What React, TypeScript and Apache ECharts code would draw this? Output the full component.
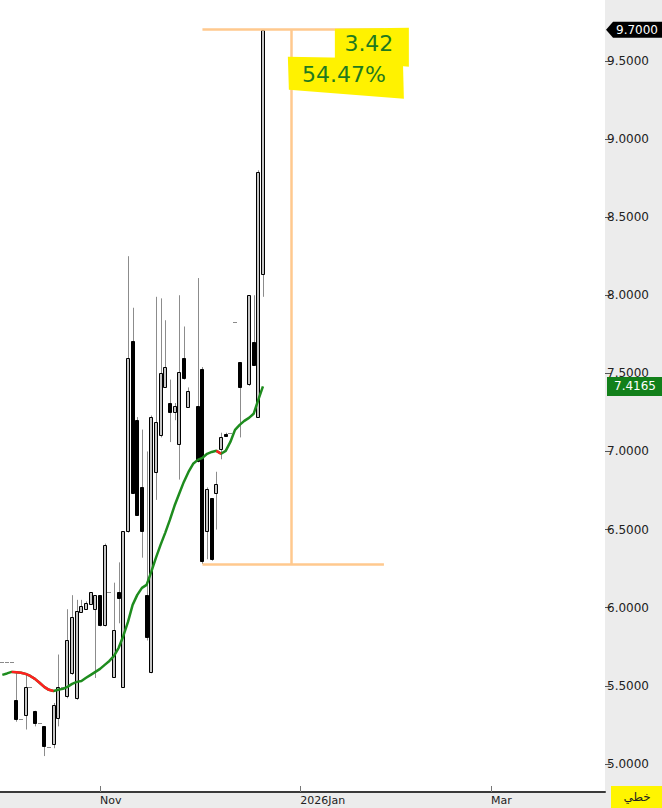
import React, { useEffect, useRef } from "react";
import * as echarts from "echarts";

// ---- category slots (trading days, incl. future empty slots) ----
const SLOT_COUNT = 130;
const categories: string[] = Array.from({ length: SLOT_COUNT }, (_, i) => "D" + i);

// x-axis tick labels at trading-slot indices
const xTickSlots = [21, 64, 105];
const xTickLabels = ["Nov", "2026Jan", "Mar"];

// y-axis tick values
const yTicks = [5.0, 5.5, 6.0, 6.5, 7.0, 7.5, 8.0, 8.5, 9.0, 9.5];
const yMin = 4.82;
const yMax = 9.89;

// ---- OHLC by slot (null = no bar) ----
const opens: (number | null)[] = [
  5.65, 5.65, 5.65, 5.41, 5.29, 5.31, 5.49, 5.34, 5.26, 5.24,
  5.11, 5.13, 5.29, 5.49, 5.43, 5.58, 5.42, 5.97, 5.99, 6.02,
  5.99, 6.08, 5.89, 6.10, 5.56, 6.10, 5.49, 6.49, 7.71, 7.20,
  6.77, 6.08, 5.59, 6.87, 7.10, 7.41, 7.31, 7.25, 7.05, 7.60,
  7.29, null, 7.29, 7.53, 6.49, 6.70, 6.73, 7.01, 7.11, 7.12,
  7.83, 7.57, null, 7.43, 7.70, 7.22, 8.14,
];
const closes: (number | null)[] = [
  5.65, 5.65, 5.65, 5.29, 5.29, 5.49, 5.49, 5.26, 5.26, 5.11,
  5.11, 5.38, 5.49, 5.49, 5.79, 5.94, 5.98, 6.01, 6.03, 6.10,
  6.08, 5.89, 6.40, 6.10, 5.86, 6.06, 6.49, 7.60, 6.74, 6.59,
  6.49, 5.81, 7.22, 7.19, 7.50, 7.54, 7.25, 7.29, 7.51, 7.47,
  7.39, null, 6.94, 6.30, 6.76, 6.31, 6.79, 7.09, 7.10, 7.12,
  7.83, 7.41, null, 8.00, 7.55, 8.79, 9.70,
];
const lows: (number | null)[] = [
  5.65, 5.65, 5.65, 5.27, 5.29, 5.22, 5.49, 5.24, 5.26, 5.05,
  5.11, 5.10, 5.24, 5.49, 5.42, 5.57, 5.41, 5.97, 5.99, 6.02,
  5.55, 5.88, 5.88, 6.10, 5.55, 5.90, 5.49, 6.48, 6.74, 6.59,
  6.32, 5.79, 5.58, 6.69, 7.09, 7.41, 7.06, 7.20, 6.82, 7.46,
  7.28, null, 6.93, 6.2795, 6.31, 6.30, 6.50, 6.95, 7.10, 7.12,
  7.83, 7.09, null, 7.42, 7.55, 7.22, 7.99,
];
const highs: (number | null)[] = [
  5.65, 5.65, 5.65, 5.59, 5.29, 5.58, 5.49, 5.34, 5.26, 5.24,
  5.11, 5.39, 5.70, 5.49, 5.99, 6.08, 6.05, 6.05, 6.04, 6.10,
  6.08, 6.08, 6.41, 6.10, 6.16, 6.29, 6.49, 8.25, 7.92, 7.22,
  7.14, 7.00, 7.23, 7.99, 7.98, 7.84, 7.46, 7.31, 8.00, 7.80,
  7.41, null, 8.11, 7.54, 6.77, 6.70, 6.87, 7.12, 7.12, 7.12,
  7.83, 7.57, null, 8.00, 8.00, 8.80, 9.70,
];

// moving average by slot
const maValues: number[] = [
  5.570, 5.579, 5.589, 5.586, 5.583, 5.576, 5.563, 5.544, 5.519, 5.493,
  5.474, 5.467, 5.474, 5.480, 5.493, 5.512, 5.525, 5.531, 5.551, 5.570,
  5.589, 5.608, 5.634, 5.659, 5.691, 5.743, 5.819, 5.909, 6.018, 6.082,
  6.127, 6.146, 6.229, 6.319, 6.402, 6.479, 6.562, 6.652, 6.729, 6.805,
  6.869, 6.921, 6.946, 6.959, 6.985, 6.997, 7.004, 6.985, 7.004, 7.061,
  7.138, 7.170, 7.196, 7.215, 7.241, 7.330, 7.4165,
];
// slot ranges where the MA is drawn red (falling)
const maFallingRanges: [number, number][] = [[2, 11], [46, 47]];

// measurement tool
const measureFromSlot = 43;
const measureToSlot = 82;
const measureMidSlot = 62;

const FONT = "'DejaVu Sans', Verdana, sans-serif";

export default function App() {
  const ref = useRef<HTMLDivElement>(null);
  useEffect(() => {
    if (!ref.current) return;
    const chart = echarts.init(ref.current, null, { renderer: "svg" });

    const candleData: number[][] = [];
    for (let i = 0; i < opens.length; i++) {
      if (opens[i] == null) continue;
      candleData.push([i, opens[i] as number, closes[i] as number, lows[i] as number, highs[i] as number]);
    }
    let hi = -Infinity, lo = Infinity;
    for (let i = measureFromSlot; i < highs.length; i++) {
      if (highs[i] != null) hi = Math.max(hi, highs[i] as number);
      if (lows[i] != null) lo = Math.min(lo, lows[i] as number);
    }
    const redData = maValues.map((v, i) =>
      maFallingRanges.some(([a, b]) => i >= a && i <= b) ? v : "-"
    );
    const lastClose = closes[closes.length - 1] as number;
    const lastMA = maValues[maValues.length - 1];

    const orange = "#ffc98e";
    const option: any = {
      animation: false,
      backgroundColor: "#ececec",
      grid: { left: -1, right: 57, top: 0, bottom: 16, show: true, backgroundColor: "#ffffff", borderWidth: 0 },
      xAxis: {
        type: "category",
        data: categories,
        boundaryGap: true,
        axisLine: { lineStyle: { color: "#3a3a3a", width: 2 } },
        axisTick: {
          show: true, inside: true, length: 6, alignWithLabel: true,
          interval: (i: number) => xTickSlots.includes(i),
          lineStyle: { color: "#777" },
        },
        axisLabel: {
          interval: (i: number) => xTickSlots.includes(i),
          formatter: (_v: string, i: number) => {
            const k = xTickSlots.indexOf(i);
            return k >= 0 ? xTickLabels[k] : "";
          },
          align: "left", margin: 3, color: "#222", fontSize: 11, fontFamily: FONT,
        },
        splitLine: { show: false },
      },
      yAxis: {
        type: "value",
        position: "right",
        min: yMin,
        max: yMax,
        axisLine: { show: false },
        axisTick: { show: true, length: 6, customValues: yTicks, lineStyle: { color: "#555" } },
        axisLabel: {
          customValues: yTicks,
          formatter: (v: number) => v.toFixed(4),
          margin: 2, color: "#222", fontSize: 12, fontFamily: FONT,
        },
        splitLine: { show: false },
      },
      series: [
        {
          type: "custom",
          name: "price",
          data: candleData,
          encode: { x: 0, y: [1, 2, 3, 4] },
          z: 2,
          renderItem: (_p: any, api: any) => {
            const idx = api.value(0);
            const o = api.value(1), c = api.value(2), l = api.value(3), h = api.value(4);
            const pH = api.coord([idx, h]);
            const pL = api.coord([idx, l]);
            const pO = api.coord([idx, o]);
            const pC = api.coord([idx, c]);
            const xc = Math.round(pH[0]);
            if (h === l) {
              const y = Math.round(pH[1]) + 0.5;
              return { type: "line", shape: { x1: xc - 2, y1: y, x2: xc + 2, y2: y }, style: { stroke: "#8a8a8a", lineWidth: 1 } };
            }
            const top = Math.min(pO[1], pC[1]);
            const bot = Math.max(pO[1], pC[1]);
            const up = c >= o;
            return {
              type: "group",
              children: [
                { type: "line", shape: { x1: xc + 0.5, y1: pH[1], x2: xc + 0.5, y2: pL[1] }, style: { stroke: "#8c8c8c", lineWidth: 1 } },
                {
                  type: "rect",
                  shape: { x: xc - 1.5, y: Math.round(top) + 0.5, width: 3, height: Math.max(1, Math.round(bot - top)) },
                  style: { fill: up ? "#c6c6c6" : "#000", stroke: "#000", lineWidth: 1 },
                },
              ],
            };
          },
        },
        {
          type: "line",
          name: "ma",
          data: maValues,
          symbol: "none",
          z: 3,
          lineStyle: { color: "#1e8c1e", width: 2.5 },
          markLine: {
            silent: true,
            symbol: ["none", "none"],
            label: { show: false },
            lineStyle: { color: orange, width: 2.5, type: "solid" },
            emphasis: { disabled: true },
            data: [
              [{ coord: [categories[measureFromSlot], hi] }, { coord: [categories[measureToSlot], hi] }],
              [{ coord: [categories[measureFromSlot], lo] }, { coord: [categories[measureToSlot], lo] }],
              [{ coord: [categories[measureMidSlot], hi] }, { coord: [categories[measureMidSlot], lo] }],
            ],
          },
        },
        {
          type: "line",
          name: "ma-down",
          data: redData,
          symbol: "none",
          z: 4,
          connectNulls: false,
          lineStyle: { color: "#ff2020", width: 2.5 },
        },
      ],
    };
    chart.setOption(option);

    const yLast = chart.convertToPixel({ yAxisIndex: 0 }, lastClose) as number;
    const yMa = chart.convertToPixel({ yAxisIndex: 0 }, lastMA) as number;
    const anchor = chart.convertToPixel({ xAxisIndex: 0, yAxisIndex: 0 }, [measureMidSlot, hi]) as number[];
    const ax = anchor[0], ay = anchor[1];
    const diff = hi - lo;
    const pct = (diff / lo) * 100;
    const W = chart.getWidth();
    const H = chart.getHeight();

    chart.setOption({
      graphic: [
        {
          type: "polygon", z: 100,
          shape: { points: [[ax + 44, ay - 1], [ax + 118, ay - 2], [ax + 118, ay + 37], [ax + 44, ay + 30]] },
          style: { fill: "#fff200" },
        },
        {
          type: "polygon", z: 101,
          shape: { points: [[ax - 3, ay + 27], [ax + 112, ay + 29], [ax + 113, ay + 69], [ax - 2, ay + 60]] },
          style: { fill: "#fff200" },
        },
        {
          type: "text", z: 102, x: ax + 78, y: ay + 14,
          style: { text: diff.toFixed(2), fill: "#1f7a1f", font: "22px " + FONT, textAlign: "center", textVerticalAlign: "middle" },
        },
        {
          type: "text", z: 102, x: ax + 53, y: ay + 45,
          style: { text: pct.toFixed(2) + "%", fill: "#1f7a1f", font: "22px " + FONT, textAlign: "center", textVerticalAlign: "middle" },
        },
        {
          type: "polygon", z: 100,
          shape: { points: [[W - 56, yLast], [W - 49, yLast - 8], [W, yLast - 8], [W, yLast + 8], [W - 49, yLast + 8]] },
          style: { fill: "#000" },
        },
        {
          type: "text", z: 101, x: W - 25, y: yLast,
          style: { text: lastClose.toFixed(4), fill: "#fff", font: "12px " + FONT, textAlign: "center", textVerticalAlign: "middle" },
        },
        {
          type: "rect", z: 100,
          shape: { x: W - 55, y: yMa - 9.5, width: 55, height: 19 },
          style: { fill: "#12801a" },
        },
        {
          type: "text", z: 101, x: W - 27, y: yMa,
          style: { text: lastMA.toFixed(4), fill: "#fff", font: "12px " + FONT, textAlign: "center", textVerticalAlign: "middle" },
        },
        {
          type: "rect", z: 100,
          shape: { x: W - 51, y: H - 22, width: 51, height: 22 },
          style: { fill: "#fff500" },
        },
        {
          type: "text", z: 101, x: W - 25, y: H - 11,
          style: { text: "خطي", fill: "#222", font: "12px " + FONT, textAlign: "center", textVerticalAlign: "middle" },
        },
      ],
    });

    return () => chart.dispose();
  }, []);

  return (
    <div
      ref={ref}
      style={{ position: "fixed", left: 0, top: 0, width: 662, height: 808 }}
    />
  );
}
